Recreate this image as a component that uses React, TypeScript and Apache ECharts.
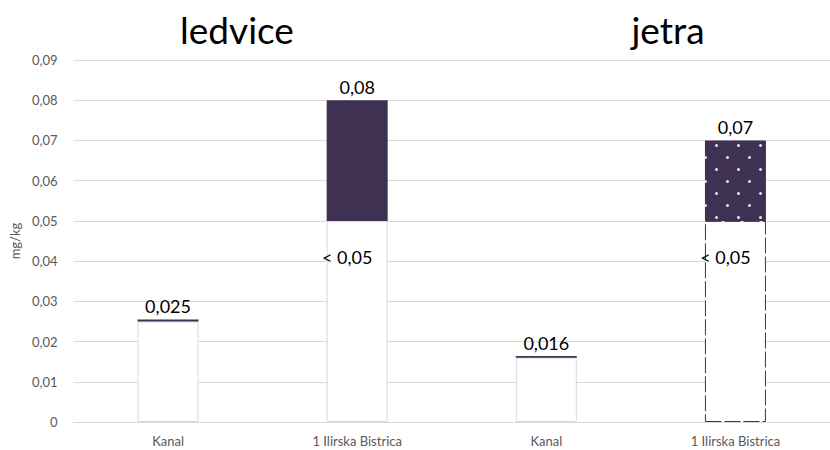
import React, { useEffect, useRef } from "react";
import * as echarts from "echarts";

const categories = ["Kanal", "1 Ilirska Bistrica", "Kanal", "1 Ilirska Bistrica"];
const panelTitles = ["ledvice", "jetra"];
// white part (below detection limit / measured value)
const baseValues = [0.025, 0.05, 0.016, 0.05];
// dark part stacked above (Kanal: thin edge line only)
const topValues = [0.0005, 0.03, 0.0004, 0.02];
const topLabels = ["0,025", "0,08", "0,016", "0,07"];
const baseLabels = ["", "< 0,05", "", "< 0,05"];
const yTicks = ["0", "0,01", "0,02", "0,03", "0,04", "0,05", "0,06", "0,07", "0,08", "0,09"];

const DARK = "#3f3151";
const FONT = "Lato, 'Noto Sans', sans-serif";

export default function App() {
  const ref = useRef<HTMLDivElement>(null);
  useEffect(() => {
    if (!ref.current) return;
    const chart = echarts.init(ref.current, undefined, { renderer: "svg" });
    const baseData = baseValues.map((v, i) => ({
      value: v,
      itemStyle:
        i === 3
          ? { color: "#ffffff", borderColor: DARK, borderWidth: 1, borderType: [16, 3] }
          : { color: "#ffffff", borderColor: "#d9d9d9", borderWidth: 1 },
      label: {
        show: baseLabels[i] !== "",
        formatter: baseLabels[i],
      },
    }));
    const topData = topValues.map((v, i) => ({
      value: v,
      itemStyle:
        i === 3
          ? {
              color: DARK,
              decal: {
                symbol: "circle",
                symbolSize: 1,
                color: "rgba(235,235,245,0.95)",
                dashArrayX: [[3, 19], [0, 11, 3, 8]],
                dashArrayY: [3, 9],
              },
            }
          : { color: DARK },
      label: { show: true, formatter: topLabels[i] },
    }));
    chart.setOption({
      animation: false,
      textStyle: { fontFamily: FONT },
      title: [
        {
          text: panelTitles[0],
          left: 232,
          top: 6,
          textAlign: "center",
          textStyle: { fontSize: 37, fontWeight: "normal", color: "#000", fontFamily: FONT },
        },
        {
          text: panelTitles[1],
          left: 663,
          top: 6,
          textAlign: "center",
          textStyle: { fontSize: 37, fontWeight: "normal", color: "#000", fontFamily: FONT },
        },
      ],
      grid: { left: 72, top: 60, width: 768, height: 362, containLabel: false },
      xAxis: {
        type: "category",
        data: categories,
        axisLine: { lineStyle: { color: "#d9d9d9", width: 1 } },
        axisTick: { show: false },
        axisLabel: { color: "#595959", fontSize: 13, margin: 12, fontFamily: FONT },
      },
      yAxis: {
        type: "value",
        min: 0,
        max: 0.09,
        interval: 0.01,
        name: "mg/kg",
        nameLocation: "middle",
        nameGap: 46,
        nameTextStyle: { color: "#595959", fontSize: 13, fontFamily: FONT },
        axisLine: { show: false },
        axisTick: { show: false },
        axisLabel: {
          color: "#595959",
          fontSize: 13,
          margin: 16,
          fontFamily: FONT,
          formatter: (_v: number, idx: number) => yTicks[idx],
        },
        splitLine: { lineStyle: { color: "#d9d9d9", width: 1 } },
      },
      series: [
        {
          type: "bar",
          stack: "s",
          barWidth: 61,
          data: baseData,
          label: {
            position: "insideTop",
            offset: [-10, 22],
            color: "#000",
            fontSize: 18,
            fontFamily: FONT,
          },
          z: 2,
        },
        {
          type: "bar",
          stack: "s",
          barWidth: 61,
          data: topData,
          label: {
            position: "top",
            distance: 4,
            color: "#000",
            fontSize: 18,
            fontFamily: FONT,
          },
          z: 3,
        },
      ],
    });
    return () => chart.dispose();
  }, []);
  return (
    <div
      ref={ref}
      style={{ position: "absolute", left: 0, top: 0, width: 830, height: 450, background: "#fff" }}
    />
  );
}
